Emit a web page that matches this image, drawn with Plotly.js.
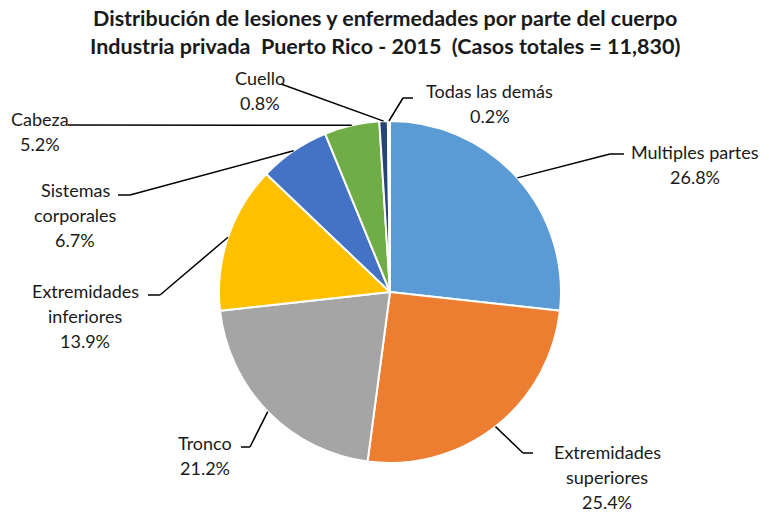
<!DOCTYPE html>
<html>
<head>
<meta charset="utf-8">
<script src="https://cdn.plot.ly/plotly-3.0.1.min.js"></script>
<style>html,body{margin:0;padding:0;background:#fff;}#chart{width:769px;height:514px;}</style>
</head>
<body>
<div id="chart"></div>
<script>
// Data
const categories = ["Multiples partes", "Extremidades superiores", "Tronco", "Extremidades inferiores", "Sistemas corporales", "Cabeza", "Cuello", "Todas las demás"];
const labelLines = [["Multiples partes"], ["Extremidades", "superiores"], ["Tronco"], ["Extremidades", "inferiores"], ["Sistemas", "corporales"], ["Cabeza"], ["Cuello"], ["Todas las demás"]];
const percents = [26.8, 25.4, 21.2, 13.9, 6.7, 5.2, 0.8, 0.2];
const colors = ["#5B9BD5", "#ED7D31", "#A5A5A5", "#FFC000", "#4472C4", "#70AD47", "#264478", "#9E480E"];
const titleLines = ["Distribución de lesiones y enfermedades por parte del cuerpo", "Industria privada  Puerto Rico - 2015  (Casos totales = 11,830)"];

// Layout geometry (pixels)
const W = 769, H = 514;
const cx = 390, cy = 292, R = 171;
// label anchors: [text center x, first line center y, elbow x, elbow y, line end x]
const labelPos = [
  [695, 152, 610, 154, 624],
  [607, 452, 523, 453, 533],
  [205, 443, 250, 447, 241],
  [85, 291, 160, 295, 148],
  [75, 190, 130, 195, 118],
  [40, 119, 68, 125, 68],
  [260, 78, 281, 84, 281],
  [490, 91, 403, 98, 413]
];
const lineGap = 25;
const px = x => x / W;
const py = y => 1 - y / H;

const total = percents.reduce((a, b) => a + b, 0);
const annotations = [];
const shapes = [];
let cum = 0;
percents.forEach((v, i) => {
  const mid = (cum + v / 2) / total * 2 * Math.PI;
  cum += v;
  const ex = cx + R * Math.sin(mid), ey = cy - R * Math.cos(mid);
  const [tx, ty, bx, by, lx] = labelPos[i];
  const lines = labelLines[i].concat([v.toFixed(1) + "%"]);
  lines.forEach((t, k) => {
    annotations.push({
      text: t, xref: "paper", yref: "paper", x: px(tx), y: py(ty + k * lineGap),
      xanchor: "center", yanchor: "middle", showarrow: false,
      font: {family: "Lato, 'Open Sans', sans-serif", size: 18, color: "#1a1a1a"}
    });
  });
  shapes.push({type: "line", xref: "paper", yref: "paper", x0: px(ex), y0: py(ey), x1: px(bx), y1: py(by), line: {color: "#000", width: 1.5}});
  if (lx !== bx) shapes.push({type: "line", xref: "paper", yref: "paper", x0: px(bx), y0: py(by), x1: px(lx), y1: py(by), line: {color: "#000", width: 1.5}});
});

titleLines.forEach((t, k) => {
  annotations.push({
    text: "<b>" + t + "</b>", xref: "paper", yref: "paper", x: px(385), y: py(18 + k * 28),
    xanchor: "center", yanchor: "middle", showarrow: false,
    font: {family: "Lato, 'Open Sans', sans-serif", size: 21.5, color: "#1a1a1a"}
  });
});

const trace = {
  type: "pie",
  labels: categories,
  values: percents,
  sort: false,
  direction: "clockwise",
  rotation: 0,
  textinfo: "none",
  hoverinfo: "label+percent",
  marker: {colors: colors, line: {color: "#ffffff", width: 2}},
  domain: {x: [px(cx - R), px(cx + R)], y: [py(cy + R), py(cy - R)]},
  showlegend: false
};

Plotly.newPlot("chart", [trace], {
  width: W, height: H,
  margin: {l: 0, r: 0, t: 0, b: 0},
  paper_bgcolor: "#ffffff",
  showlegend: false,
  annotations: annotations,
  shapes: shapes
}, {displayModeBar: false, staticPlot: true});
</script>
</body>
</html>
